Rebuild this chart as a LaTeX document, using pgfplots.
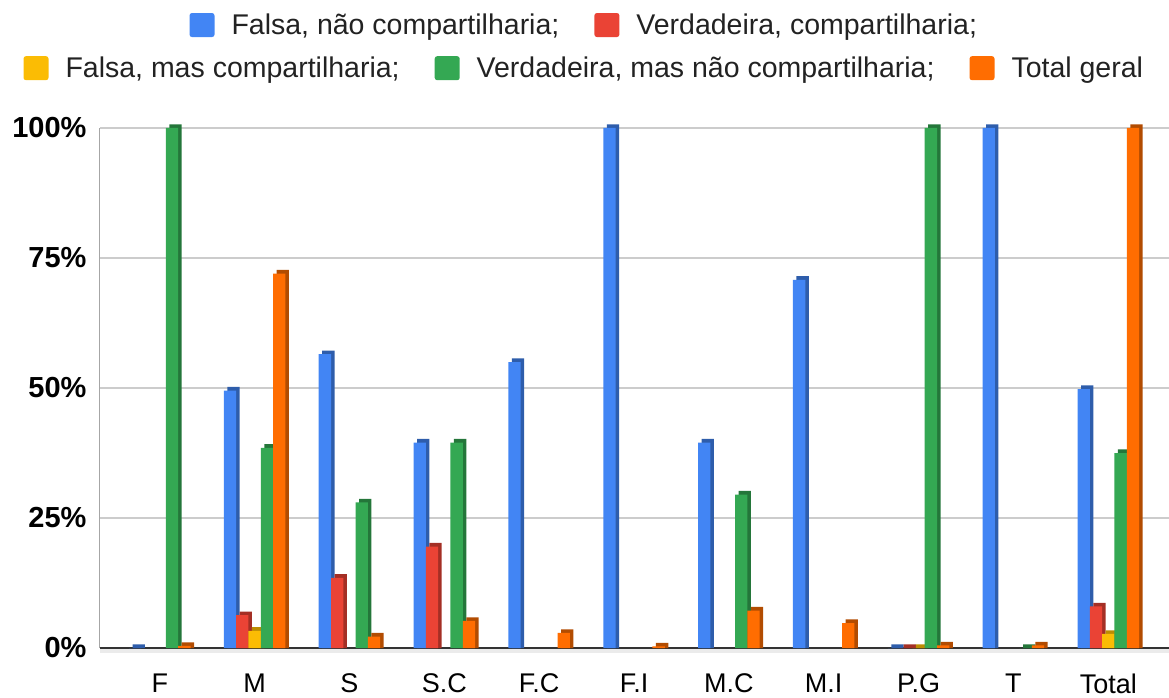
\documentclass[border=0pt]{standalone}
\usepackage{pgfplots}
\usepackage{pgfplotstable}
\pgfplotsset{compat=1.18}
\usepackage{fontspec}
\setmainfont{Liberation Sans}
\definecolor{cblue}{HTML}{4285F4}
\definecolor{cred}{HTML}{EA4335}
\definecolor{cyellow}{HTML}{FBBC04}
\definecolor{cgreen}{HTML}{34A853}
\definecolor{corange}{HTML}{FF6D01}
\definecolor{ctext}{HTML}{222222}

\pgfplotstableread{
x b r y g o
0 0 nan nan 100 0.4
1 49.5 6.3 3.3 38.5 72
2 56.5 13.5 nan 28 2.2
3 39.5 19.5 nan 39.5 5.2
4 55 nan nan nan 2.9
5 100 nan nan nan 0.3
6 39.5 nan nan 29.5 7.2
7 70.8 nan nan nan 4.8
8 0 0 0 100 0.5
9 100 nan nan 0 0.5
10 49.8 8 2.7 37.5 100
}\data

\newcommand{\bw}{12.3pt}
\pgfplotsset{
  mylegimg/.style={legend image code/.code={\fill[##1, draw=none, rounded corners=2.5pt] (0pt,-12pt) rectangle (25pt,12pt); \path[draw=none, fill=none] (0pt,0pt) -- (40pt,0pt);}},
}
\begin{document}
\begin{tikzpicture}
\begin{axis}[
  name=main,
  scale only axis,
  width=1069pt, height=520pt,
  xmin=-0.63, xmax=10.64,
  ymin=0, ymax=100,
  clip=false,
  axis line style={draw=none},
  ytick={0,25,50,75,100},
  yticklabels={0\%,25\%,50\%,75\%,100\%},
  yticklabel style={font=\fontsize{29}{32}\selectfont\bfseries, xshift=-10pt},
  xtick={0,...,10},
  xticklabels={F,M,S,S.C,F.C,F.I,M.C,M.I,P.G,T,Total},
  xticklabel style={font=\fontsize{27}{32}\selectfont, yshift=-22pt},
  major tick length=0pt,
  ymajorgrids,
  grid style={black!20, line width=1.2pt},
  mylegimg,
  legend style={draw=none, fill=none, at={(0.453,1.198)}, anchor=center,
    font=\fontsize{28.5}{34}\selectfont, text=ctext,
    /tikz/every even column/.append style={column sep=33pt}},
  legend columns=2,
]
\fill[black!8] (rel axis cs:0,0) rectangle ([yshift=-5pt]rel axis cs:1,0);
\draw[black!35, line width=1pt] (rel axis cs:0,0) -- (rel axis cs:0,1);
\draw[black!80, line width=2pt] (rel axis cs:0,0) -- (rel axis cs:1,0);
% side faces (3D)
\addplot[ybar, bar width=\bw, bar shift=-24.6pt+3.5pt, fill=cblue!70!black, draw=none, forget plot] table[x=x, y expr=\thisrow{b}+0.7]{\data};
\addplot[ybar, bar width=\bw, bar shift=-12.3pt+3.5pt, fill=cred!70!black, draw=none, forget plot] table[x=x, y expr=\thisrow{r}+0.7]{\data};
\addplot[ybar, bar width=\bw, bar shift=0pt+3.5pt, fill=cyellow!75!black, draw=none, forget plot] table[x=x, y expr=\thisrow{y}+0.7]{\data};
\addplot[ybar, bar width=\bw, bar shift=12.3pt+3.5pt, fill=cgreen!70!black, draw=none, forget plot] table[x=x, y expr=\thisrow{g}+0.7]{\data};
\addplot[ybar, bar width=\bw, bar shift=24.6pt+3.5pt, fill=corange!70!black, draw=none, forget plot] table[x=x, y expr=\thisrow{o}+0.7]{\data};
% front faces
\addplot[ybar, bar width=\bw, bar shift=-24.6pt, fill=cblue, draw=none] table[x=x, y=b]{\data};
\addlegendentry{Falsa, não compartilharia;}
\addplot[ybar, bar width=\bw, bar shift=-12.3pt, fill=cred, draw=none] table[x=x, y=r]{\data};
\addlegendentry{Verdadeira, compartilharia;}
\addplot[ybar, bar width=\bw, bar shift=0pt, fill=cyellow, draw=none, forget plot] table[x=x, y=y]{\data};
\addplot[ybar, bar width=\bw, bar shift=12.3pt, fill=cgreen, draw=none, forget plot] table[x=x, y=g]{\data};
\addplot[ybar, bar width=\bw, bar shift=24.6pt, fill=corange, draw=none, forget plot] table[x=x, y=o]{\data};
\end{axis}
\begin{axis}[
  scale only axis,
  width=1069pt, height=520pt,
  xmin=0, xmax=1, ymin=0, ymax=1,
  hide axis,
  mylegimg,
  legend style={draw=none, fill=none, at={(0.453,1.115)}, anchor=center,
    font=\fontsize{28.5}{34}\selectfont, text=ctext,
    /tikz/every even column/.append style={column sep=33pt}},
  legend columns=3,
]
\addlegendimage{fill=cyellow, draw=none}
\addlegendentry{Falsa, mas compartilharia;}
\addlegendimage{fill=cgreen, draw=none}
\addlegendentry{Verdadeira, mas não compartilharia;}
\addlegendimage{fill=corange, draw=none}
\addlegendentry{Total geral}
\end{axis}
\pgfresetboundingbox
\path (main.south west) ++(-100pt,-49pt) rectangle ++(1169pt,697pt);
\end{tikzpicture}
\end{document}
